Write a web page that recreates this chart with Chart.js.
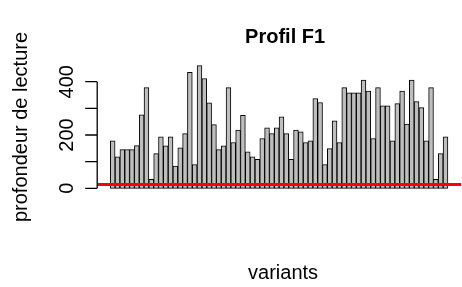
<!DOCTYPE html>
<html>
<head>
<meta charset="utf-8">
<script src="https://cdn.jsdelivr.net/npm/chart.js@4.4.0/dist/chart.umd.min.js"></script>
<style>
  body { margin: 0; background: #fff; }
  canvas { display: block; }
</style>
</head>
<body>
<canvas id="chart" width="462" height="287"></canvas>
<script>
// profondeur de lecture par variant
var depth = [
    178, 118, 145, 145, 145, 160, 276, 378, 34, 130,
    193, 159, 193, 83, 152, 205, 435, 89, 460, 412,
    321, 239, 145, 159, 378, 172, 218, 274, 137, 118,
    109, 187, 227, 205, 227, 268, 205, 109, 218, 212,
    172, 178, 337, 322, 89, 149, 253, 172, 378, 358,
    358, 358, 406, 365, 187, 378, 309, 309, 178, 318,
    365, 241, 406, 325, 303, 178, 378, 34, 130, 193
];
var variants = depth.map(function(d, i) { return 'V' + (i + 1); });
var seuil = 14;
var yTicks = [0, 100, 200, 300, 400];
var yTickLabels = ['0', '', '200', '', '400'];

var titre = 'Profil F1';
var xTitre = 'variants';
var yTitre = 'profondeur de lecture';

// barplot R : largeur 1, espace 0.2, limites étendues de 4 %
var n = depth.length;
var xlo = 0.2, xhi = 1.2 * n;
var xpad = (xhi - xlo) * 0.04;
var ymax = Math.max.apply(null, depth);
var ypad = ymax * 0.04;

var barData = depth.map(function(d, i) {
    return {x: 0.7 + 1.2 * i, y: d};
});
var lineData = [{x: xlo - xpad, y: seuil}, {x: xhi + xpad, y: seuil}];

var FONT = '"Liberation Sans", Arial, Helvetica, sans-serif';

var rAxes = {
    id: 'rAxes',
    afterDraw: function(chart) {
        var ctx = chart.ctx;
        var area = chart.chartArea;
        var y = chart.scales.y;
        var x0 = area.left;
        var midX = (area.left + area.right) / 2;

        ctx.save();
        ctx.strokeStyle = '#000';
        ctx.fillStyle = '#000';
        ctx.lineWidth = 1.3;

        // axe y
        ctx.beginPath();
        ctx.moveTo(x0, y.getPixelForValue(yTicks[0]));
        ctx.lineTo(x0, y.getPixelForValue(yTicks[yTicks.length - 1]));
        yTicks.forEach(function(t) {
            var py = y.getPixelForValue(t);
            ctx.moveTo(x0, py);
            ctx.lineTo(x0 - 12, py);
        });
        ctx.stroke();

        ctx.font = '20px ' + FONT;
        ctx.textAlign = 'center';
        ctx.textBaseline = 'alphabetic';
        yTicks.forEach(function(t, i) {
            if (!yTickLabels[i]) return;
            ctx.save();
            ctx.translate(73, y.getPixelForValue(t));
            ctx.rotate(-Math.PI / 2);
            ctx.fillText(yTickLabels[i], 0, 0);
            ctx.restore();
        });

        // titres
        ctx.save();
        ctx.translate(27, (area.top + area.bottom) / 2);
        ctx.rotate(-Math.PI / 2);
        ctx.fillText(yTitre, 0, 0);
        ctx.restore();

        ctx.fillText(xTitre, midX + 4, 279);

        ctx.font = 'bold 20px ' + FONT;
        ctx.fillText(titre, midX + 6, 43);
        ctx.restore();
    }
};

var ctx = document.getElementById('chart').getContext('2d');

var chart = new Chart(ctx, {
    type: 'bar',
    data: {
        labels: variants,
        datasets: [{
            type: 'line',
            data: lineData,
            borderColor: '#ff0000',
            borderWidth: 3,
            pointRadius: 0,
            order: 0
        }, {
            type: 'bar',
            data: barData,
            backgroundColor: '#bebebe',
            borderColor: '#000',
            borderWidth: 1,
            borderSkipped: false,
            barPercentage: 1,
            categoryPercentage: 1,
            order: 1
        }]
    },
    options: {
        responsive: false,
        animation: false,
        layout: {
            padding: {left: 97.2, right: 1, top: 60.8, bottom: 93.8}
        },
        scales: {
            x: {type: 'linear', display: false, offset: false, min: xlo - xpad, max: xhi + xpad},
            y: {type: 'linear', display: false, min: -ypad, max: ymax + ypad}
        },
        plugins: {
            legend: {display: false},
            tooltip: {enabled: false}
        }
    },
    plugins: [rAxes]
});
</script>
</body>
</html>
